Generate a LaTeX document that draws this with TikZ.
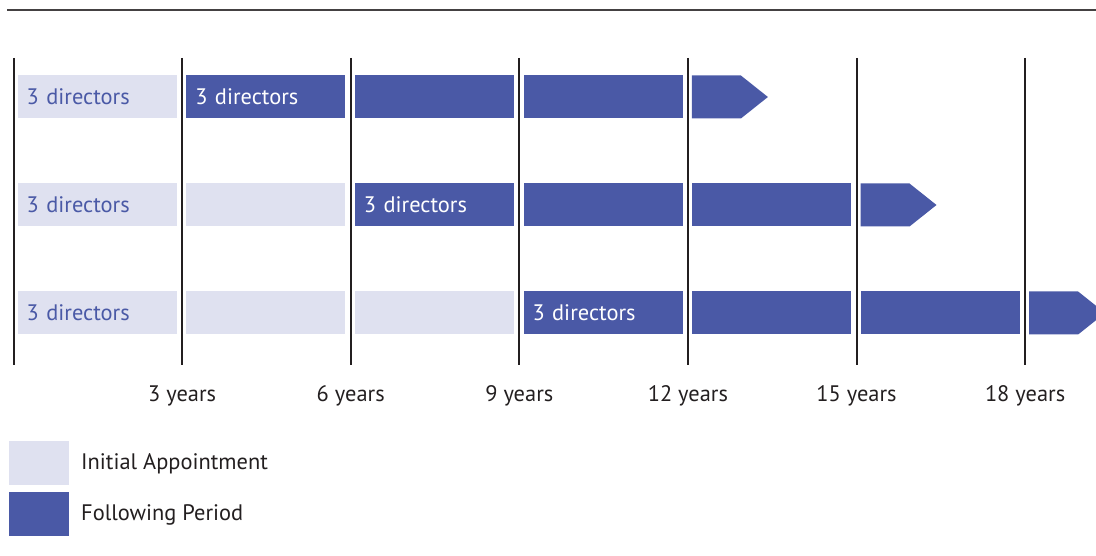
\documentclass[tikz,border=0pt]{standalone}
\usepackage{fontspec}
\setmainfont{PT Sans}
\usetikzlibrary{positioning}
\definecolor{apblue}{RGB}{74,89,166}
\definecolor{aplight}{RGB}{223,225,240}
\definecolor{apline}{RGB}{35,31,32}

\begin{document}
\begin{tikzpicture}[x=1bp,y=-1bp,font=\fontsize{22.5}{26}\selectfont]
  \tikzstyle{period}=[anchor=west,minimum height=43bp,text width=141bp,inner xsep=9bp,inner ysep=0pt,align=left]
  \tikzstyle{initial}=[period,fill=aplight,text=apblue]
  \tikzstyle{following}=[period,fill=apblue,text=white]
  \tikzstyle{tick}=[draw=apline,line width=2bp]
  \clip (0,0) rectangle (1096,556);
  \draw[apline!85,line width=1.3bp] (7,10) -- (1096,10);
  % time axis
  \foreach \k/\yr in {0/,1/3 years,2/6 years,3/9 years,4/12 years,5/15 years,6/18 years} {
    \draw[tick] (13.5+168.6*\k,58) -- (13.5+168.6*\k,365);
    \node[text=apline] (yr\k) at (13.5+168.6*\k,396) {\yr};
  }
  % first row
  \node[initial]   (a1) at (17.5,97)  {3 directors};
  \node[following] (a2) at (186.1,97) {3 directors};
  \node[following] (a3) at (354.7,97) {};
  \node[following] (a4) at (523.3,97) {};
  % second row
  \node[initial]   (b1) at (17.5,205)  {3 directors};
  \node[initial]   (b2) at (186.1,205) {};
  \node[following] (b3) at (354.7,205) {3 directors};
  \node[following] (b4) at (523.3,205) {};
  \node[following] (b5) at (691.9,205) {};
  % third row
  \node[initial]   (c1) at (17.5,313)  {3 directors};
  \node[initial]   (c2) at (186.1,313) {};
  \node[initial]   (c3) at (354.7,313) {};
  \node[following] (c4) at (523.3,313) {3 directors};
  \node[following] (c5) at (691.9,313) {};
  \node[following] (c6) at (860.5,313) {};
  % open ends
  \foreach \x/\y in {691.9/97,860.5/205,1029.1/313}
    \fill[apblue] (\x,\y-21.5) -- ++(49,0) -- ++(27,21.5) -- ++(-27,21.5) -- ++(-49,0) -- cycle;
  % legend
  \node[fill=aplight,minimum width=60bp,minimum height=44bp,inner sep=0pt] (lgi) at (39,463) {};
  \node[fill=apblue,minimum width=60bp,minimum height=44bp,inner sep=0pt] (lgf) at (39,514) {};
  \node[text=apline,anchor=west,inner xsep=0pt] (lgit) at (81,464) {Initial Appointment};
  \node[text=apline,anchor=west,inner xsep=0pt] (lgft) at (81,515) {Following Period};
\end{tikzpicture}
\end{document}
